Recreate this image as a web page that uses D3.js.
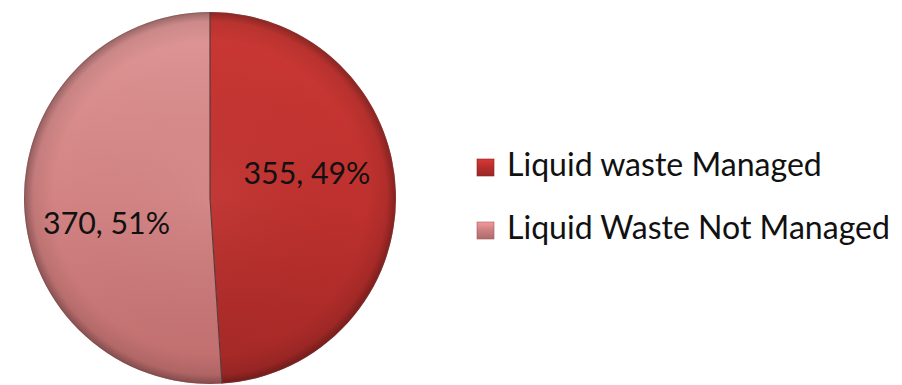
<!DOCTYPE html>
<html>
<head>
<meta charset="utf-8">
<script src="https://cdn.jsdelivr.net/npm/d3@7/dist/d3.min.js"></script>
<style>
  html, body { margin: 0; padding: 0; background: #ffffff; }
  svg { display: block; }
</style>
</head>
<body>
<svg id="chart" width="902" height="385"></svg>
<script>
// ---- Data ----
const categories = ["Liquid waste Managed", "Liquid Waste Not Managed"];
const values = [355, 370];

// ---- Styling ----
const W = 902, H = 385;
const cx = 210, cy = 198, R = 186;
const FONT = "Lato, 'Open Sans', 'DejaVu Sans', sans-serif";
const palette = {
  "Liquid waste Managed":   { top: "#ca3834", mid: "#bf312e", bot: "#a22826", legend: "#b72f2c" },
  "Liquid Waste Not Managed": { top: "#de9696", mid: "#d38383", bot: "#be6c6c", legend: "#cf8080" }
};

const svg = d3.select("#chart");
const defs = svg.append("defs");

categories.forEach((c, i) => {
  const p = palette[c];
  const g = defs.append("linearGradient").attr("id", "grad" + i)
    .attr("gradientUnits", "userSpaceOnUse")
    .attr("x1", 0).attr("y1", -R).attr("x2", 0).attr("y2", R);
  g.append("stop").attr("offset", "0%").attr("stop-color", p.top);
  g.append("stop").attr("offset", "50%").attr("stop-color", p.mid);
  g.append("stop").attr("offset", "100%").attr("stop-color", p.bot);

  const lg = defs.append("linearGradient").attr("id", "lgrad" + i)
    .attr("x1", 0).attr("y1", 0).attr("x2", 0).attr("y2", 1);
  lg.append("stop").attr("offset", "0%").attr("stop-color", d3.color(p.legend).brighter(0.5));
  lg.append("stop").attr("offset", "45%").attr("stop-color", p.legend);
  lg.append("stop").attr("offset", "100%").attr("stop-color", d3.color(p.legend).darker(0.5));
});

// rim / bevel overlay
const rg = defs.append("radialGradient").attr("id", "rim")
  .attr("cx", "50%").attr("cy", "50%").attr("r", "50%");
rg.append("stop").attr("offset", "0%").attr("stop-color", "#fff").attr("stop-opacity", 0.04);
rg.append("stop").attr("offset", "84%").attr("stop-color", "#000").attr("stop-opacity", 0);
rg.append("stop").attr("offset", "95%").attr("stop-color", "#000").attr("stop-opacity", 0.08);
rg.append("stop").attr("offset", "100%").attr("stop-color", "#000").attr("stop-opacity", 0.32);

const pie = d3.pie().sort(null).value(d => d)(values);
const arc = d3.arc().innerRadius(0).outerRadius(R);

const g = svg.append("g").attr("transform", `translate(${cx},${cy})`);

g.selectAll("path.slice").data(pie).join("path")
  .attr("class", "slice")
  .attr("d", arc)
  .attr("fill", (d, i) => `url(#grad${i})`);

g.append("circle").attr("r", R).attr("fill", "url(#rim)");

// slice boundary lines
g.selectAll("line.sep").data(pie).join("line")
  .attr("class", "sep")
  .attr("x1", 0).attr("y1", 0)
  .attr("x2", d => R * Math.sin(d.startAngle))
  .attr("y2", d => -R * Math.cos(d.startAngle))
  .attr("stroke", "#5a3a3a").attr("stroke-width", 1.2);

g.append("circle").attr("r", R - 0.5).attr("fill", "none")
  .attr("stroke", "#7a4a4a").attr("stroke-opacity", 0.35).attr("stroke-width", 1);

// data labels
const total = d3.sum(values);
const labelArc = d3.arc().innerRadius(100).outerRadius(100);
const labelShift = [-22, 22];
const labelNudge = [-3, -3.5];
const labels = g.selectAll("text.lbl").data(pie).join("text")
  .attr("class", "lbl")
  .attr("font-family", FONT)
  .attr("fill", "#111")
  .attr("text-anchor", "middle")
  .attr("font-size", 25)
  .text(d => `${d.value}, ${Math.round(d.value / total * 100)}%`);
labels.each(function (d, i) {
  const w = this.getComputedTextLength();
  const fs = 25 * 127 / w;
  const [x, y] = labelArc.centroid(d);
  d3.select(this).attr("font-size", fs)
    .attr("x", x + labelNudge[i])
    .attr("y", y + labelShift[i] + fs * 0.36);
});

// legend
const legend = svg.append("g");
const legendY = [176, 239];
categories.forEach((c, i) => {
  const row = legend.append("g");
  row.append("rect")
    .attr("x", 477).attr("y", legendY[i] - 17)
    .attr("width", 17).attr("height", 17)
    .attr("fill", `url(#lgrad${i})`)
    .attr("stroke", d3.color(palette[c].legend).darker(0.8)).attr("stroke-width", 0.6);
  row.append("text")
    .attr("x", 507).attr("y", legendY[i])
    .attr("font-family", FONT).attr("font-size", 28).attr("fill", "#111")
    .text(c);
});
// fit legend font so the longer label spans the reference width
const texts = legend.selectAll("text");
const longest = d3.max(texts.nodes(), n => n.getComputedTextLength());
texts.attr("font-size", 28 * 383 / longest);
</script>
</body>
</html>
